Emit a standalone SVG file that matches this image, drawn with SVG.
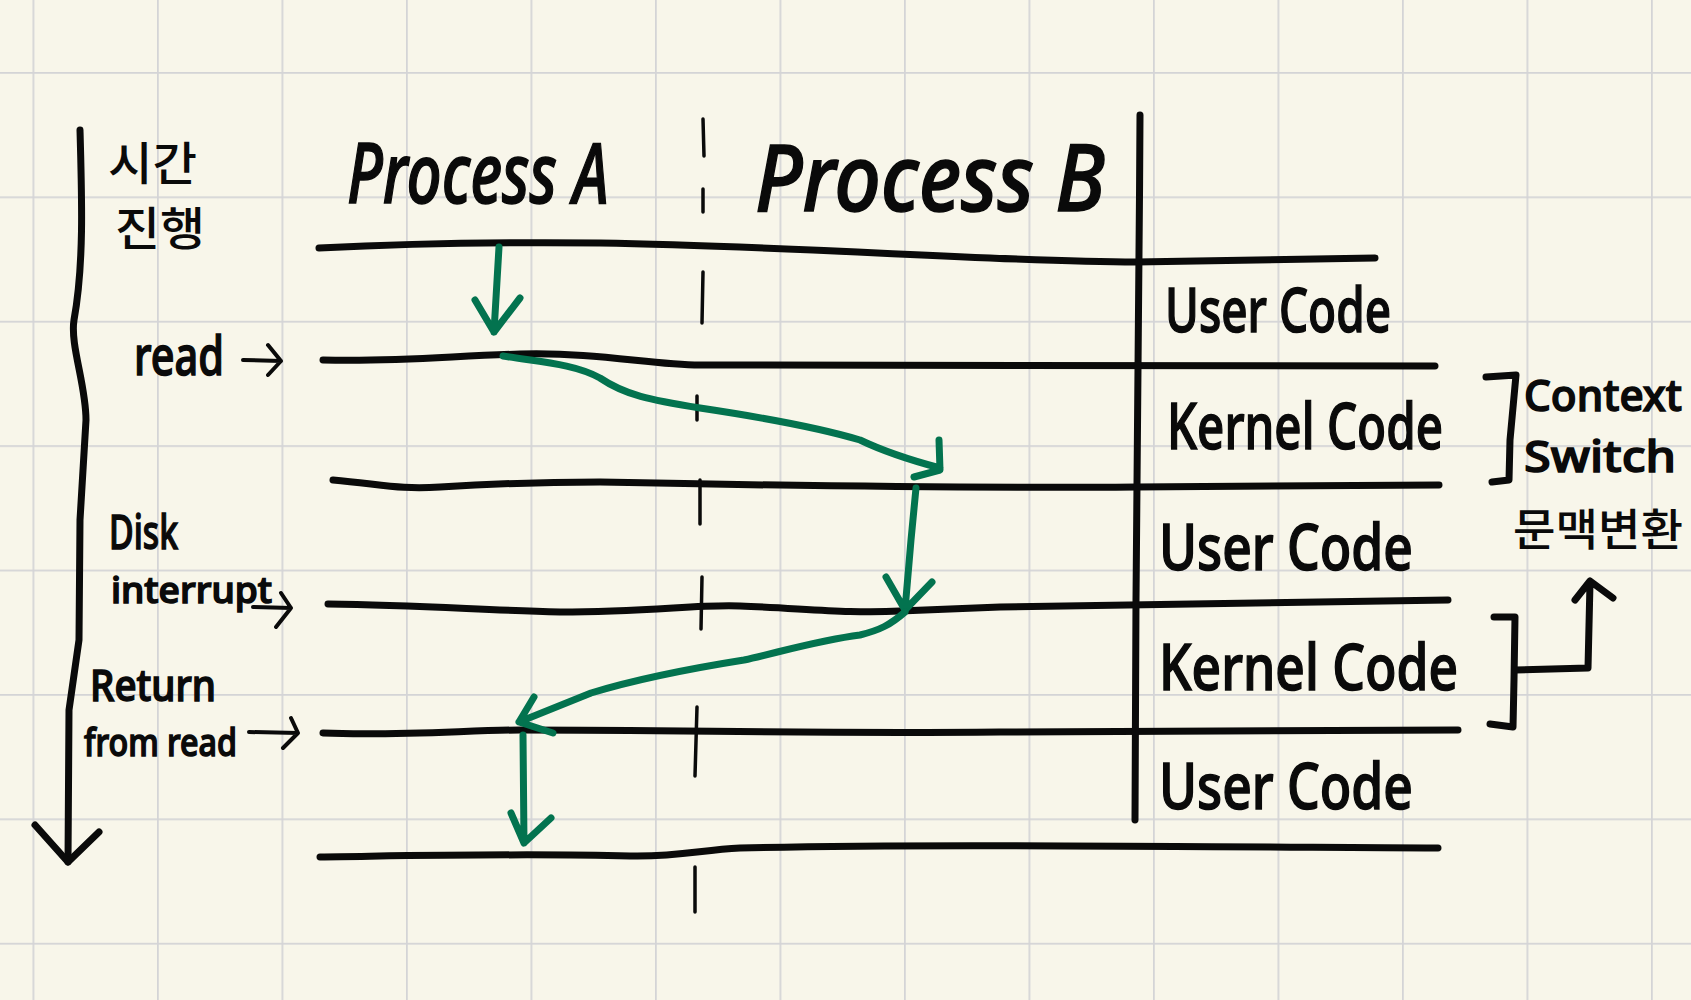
<svg xmlns="http://www.w3.org/2000/svg" width="1691" height="1000" viewBox="0 0 1691 1000">
<style>
.bg{fill:#F8F6EA}
.grid{stroke:#D4D4D6;stroke-width:3.5;fill:none}
.ink{stroke:#0A0A0A;stroke-width:7;fill:none;stroke-linecap:round;stroke-linejoin:round}
.thin{stroke:#0A0A0A;stroke-width:4;fill:none;stroke-linecap:round;stroke-linejoin:round}
.dash{stroke:#0A0A0A;stroke-width:3.5;fill:none;stroke-linecap:round}
.grn{stroke:#03734F;stroke-width:7;fill:none;stroke-linecap:round;stroke-linejoin:round}
.t{font-family:"Noto Sans","Noto Sans CJK KR",sans-serif;fill:#0A0A0A;stroke:#0A0A0A;stroke-width:1.5;font-weight:500}
.k{font-family:"Noto Sans CJK KR","Noto Sans",sans-serif;fill:#0A0A0A;font-weight:500}
</style>
<defs>
<pattern id="gp" patternUnits="userSpaceOnUse" x="32.5" y="72" width="124.5" height="124.4">
<path d="M0,0 V124.4 M0,0 H124.5" class="grid"/>
</pattern>
</defs>
<rect class="bg" x="0" y="0" width="1691" height="1000"/>
<rect x="0" y="0" width="1691" height="1000" fill="url(#gp)"/>

<g id="time-axis">
<path class="ink" d="M80,130 C82,200 84,265 74,320 C70,345 86,385 86,420 L80,520 L79,640 L69,710 L68,862"/>
<path class="ink" d="M35,825 L68,862 L99,832"/>
<text class="k" x="108" y="180" font-size="46" textLength="89" lengthAdjust="spacingAndGlyphs">시간</text>
<text class="k" x="115" y="245" font-size="46" textLength="90" lengthAdjust="spacingAndGlyphs">진행</text>
</g>

<g id="timelines">
<path class="ink" d="M319,248 C400,244 500,242 600,243 C800,246 1000,262 1136,262 L1375,258"/>
<path class="ink" d="M323,360 C400,362 450,356 520,354 C600,352 650,365 700,365 L1435,366"/>
<path class="ink" d="M333,480 C380,484 400,490 440,487 C520,482 560,482 600,482 C800,486 1000,488 1136,487 L1439,485"/>
<path class="ink" d="M328,604 C420,605 480,610 560,612 C650,612 700,604 740,606 C800,608 850,614 900,611 L1000,607 L1448,600"/>
<path class="ink" d="M323,733 C400,736 470,730 520,730 C700,730 800,734 1000,732 L1458,730"/>
<path class="ink" d="M320,857 C400,856 520,853 630,856 C680,857 700,850 740,848 C900,844 1100,846 1438,848"/>
<path class="ink" d="M1140,115 C1139,300 1137,500 1136,600 C1135,700 1135,760 1135,820"/>
</g>

<g id="divider">
<path class="dash" d="M703,119 L704,156 M703,189 L703,212 M703,272 L702,323 M697,396 L697,420 M700,480 L700,524 M702,577 L701,629 M697,707 L695,776 M695,867 L695,912"/>
</g>

<g id="process-a"><text class="t" x="347" y="203" font-size="84" font-style="italic" textLength="262" lengthAdjust="spacingAndGlyphs">Process A</text></g>
<g id="process-b"><text class="t" x="755" y="211" font-size="92" font-style="italic" textLength="350" lengthAdjust="spacingAndGlyphs">Process B</text></g>

<g id="label-read">
<text class="t" x="134" y="375" font-size="54" textLength="90" lengthAdjust="spacingAndGlyphs">read</text>
<path class="thin" d="M243,360 L281,361 M268,345 L281,361 L268,375"/>
</g>
<g id="label-disk-interrupt">
<text class="t" x="109" y="549" font-size="48" textLength="69" lengthAdjust="spacingAndGlyphs">Disk</text>
<text class="t" x="111" y="603" font-size="36" stroke-width="2" textLength="161" lengthAdjust="spacingAndGlyphs">interrupt</text>
<path class="thin" d="M253,607 L291,608 M281,593 L291,608 L276,627"/>
</g>
<g id="label-return">
<text class="t" x="90" y="701" font-size="44" stroke-width="2" textLength="126" lengthAdjust="spacingAndGlyphs">Return</text>
<text class="t" x="84" y="756" font-size="38" stroke-width="2" textLength="153" lengthAdjust="spacingAndGlyphs">from read</text>
<path class="thin" d="M249,732 L298,733 M291,718 L298,733 L283,748"/>
</g>

<g id="user-code-1"><text class="t" x="1165" y="332" font-size="62" textLength="226" lengthAdjust="spacingAndGlyphs">User Code</text></g>
<g id="kernel-code-1"><text class="t" x="1167" y="449" font-size="64" textLength="276" lengthAdjust="spacingAndGlyphs">Kernel Code</text></g>
<g id="user-code-2"><text class="t" x="1159" y="570" font-size="64" textLength="254" lengthAdjust="spacingAndGlyphs">User Code</text></g>
<g id="kernel-code-2"><text class="t" x="1159" y="690" font-size="64" textLength="299" lengthAdjust="spacingAndGlyphs">Kernel Code</text></g>
<g id="user-code-3"><text class="t" x="1159" y="809" font-size="64" textLength="254" lengthAdjust="spacingAndGlyphs">User Code</text></g>

<g id="context-switch">
<path class="ink" d="M1486,377 L1516,375 L1510,440 L1509,480 L1492,482" stroke-width="9"/>
<text class="t" x="1524" y="411" font-size="44" stroke-width="2" textLength="158" lengthAdjust="spacingAndGlyphs">Context</text>
<text class="t" x="1524" y="472" font-size="44" stroke-width="2" textLength="152" lengthAdjust="spacingAndGlyphs">Switch</text>
<text class="k" x="1513" y="546" font-size="44" textLength="170" lengthAdjust="spacingAndGlyphs">문맥변환</text>
</g>
<g id="bracket-2">
<path class="ink" d="M1494,617 L1515,617 L1514,680 L1513,727 L1490,724" stroke-width="6"/>
</g>

<g id="connectors">
<path class="ink" stroke-width="6" d="M1515,670 L1588,668 L1590,583 M1575,600 L1590,581 L1613,598"/>
<path class="grn" d="M499,247 L494,332 M475,300 L494,332 L520,298"/>
<path class="grn" d="M503,356 C540,362 575,364 600,378 C625,395 650,400 700,408 C760,417 820,428 860,440 C885,452 910,460 940,468 M939,440 L940,470 L914,477"/>
<path class="grn" d="M916,488 L911,540 L905,610 M886,577 L905,610 L932,582"/>
<path class="grn" d="M905,612 C890,625 880,630 860,635 C820,640 780,652 744,660 C700,667 640,678 591,693 L519,722 M534,697 L519,722 L553,733"/>
<path class="grn" d="M523,735 L524,843 M511,813 L524,843 L551,818"/>
</g>
</svg>
